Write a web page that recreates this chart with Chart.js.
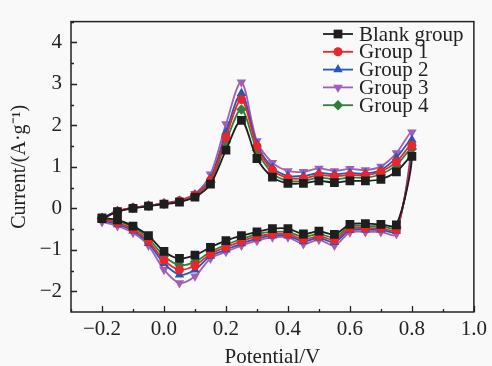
<!DOCTYPE html>
<html>
<head>
<meta charset="utf-8">
<script src="https://cdn.jsdelivr.net/npm/chart.js@4/dist/chart.umd.min.js"></script>
<style>
  html, body { margin: 0; padding: 0; background: #f9f9f9; }
  canvas { display: block; }
</style>
</head>
<body>
<canvas id="cv" width="492" height="366"></canvas>
<script>
  // Potential axis: forward scan -0.2 -> 0.8, then back 0.75 -> -0.2
  var potential = [
    -0.2, -0.15, -0.1, -0.05, 0, 0.05, 0.1, 0.15, 0.2, 0.25, 0.3, 0.35, 0.4, 0.45, 0.5, 0.55, 0.6, 0.65, 0.7, 0.75, 0.8,
    0.75, 0.7, 0.65, 0.6, 0.55, 0.5, 0.45, 0.4, 0.35, 0.3, 0.25, 0.2, 0.15, 0.1, 0.05, 0, -0.05, -0.1, -0.15, -0.2
  ];

  var blankGroup = [
    -0.25, -0.08, 0.0, 0.05, 0.1, 0.15, 0.27, 0.58, 1.4, 2.12, 1.2, 0.75, 0.6, 0.6, 0.66, 0.62, 0.66, 0.66, 0.7, 0.88, 1.25,
    -0.4, -0.39, -0.37, -0.39, -0.63, -0.55, -0.62, -0.49, -0.49, -0.57, -0.66, -0.78, -0.94, -1.13, -1.21, -1.04, -0.66, -0.43, -0.28, -0.23
  ];
  var group1 = [
    -0.25, -0.07, 0.01, 0.06, 0.11, 0.18, 0.32, 0.68, 1.72, 2.62, 1.5, 0.92, 0.73, 0.72, 0.8, 0.77, 0.8, 0.8, 0.88, 1.12, 1.52,
    -0.51, -0.48, -0.48, -0.49, -0.76, -0.67, -0.75, -0.62, -0.62, -0.68, -0.8, -0.94, -1.1, -1.38, -1.48, -1.25, -0.79, -0.5, -0.35, -0.26
  ];
  var group2 = [
    -0.26, -0.07, 0.01, 0.06, 0.12, 0.18, 0.33, 0.72, 1.83, 2.77, 1.55, 0.98, 0.78, 0.78, 0.85, 0.82, 0.85, 0.84, 0.92, 1.22, 1.65,
    -0.55, -0.52, -0.52, -0.53, -0.82, -0.71, -0.8, -0.66, -0.66, -0.73, -0.85, -1.0, -1.15, -1.48, -1.6, -1.33, -0.84, -0.54, -0.39, -0.28
  ];
  var group3 = [
    -0.28, -0.07, 0.01, 0.06, 0.12, 0.19, 0.35, 0.82, 2.03, 3.04, 1.62, 1.1, 0.9, 0.88, 0.96, 0.9, 0.95, 0.92, 1.01, 1.33, 1.83,
    -0.62, -0.57, -0.57, -0.58, -0.9, -0.76, -0.86, -0.7, -0.7, -0.78, -0.9, -1.05, -1.21, -1.64, -1.8, -1.48, -0.9, -0.59, -0.43, -0.33
  ];
  var group4 = [
    -0.24, -0.07, 0.01, 0.06, 0.11, 0.17, 0.31, 0.63, 1.6, 2.38, 1.4, 0.84, 0.66, 0.66, 0.74, 0.7, 0.74, 0.74, 0.82, 1.04, 1.43,
    -0.46, -0.43, -0.43, -0.44, -0.7, -0.62, -0.69, -0.57, -0.57, -0.62, -0.74, -0.88, -1.05, -1.29, -1.37, -1.15, -0.73, -0.45, -0.31, -0.23
  ];

  var xTicks = [-0.2, 0.0, 0.2, 0.4, 0.6, 0.8, 1.0];
  var yTicks = [-2, -1, 0, 1, 2, 3, 4];

  var serif = '"Liberation Serif", "Times New Roman", serif';

  function pts(vals) {
    return vals.map(function (v, i) { return { x: potential[i], y: v }; });
  }

  var radiusFor = { rect: 6.2, circle: 4.5, triangle: 5.5, rectRot: 5.2 };

  function series(label, vals, color, style, rot) {
    return {
      label: label,
      data: pts(vals),
      borderColor: color,
      backgroundColor: color,
      borderWidth: 1.8,
      pointStyle: style,
      pointRotation: rot || 0,
      pointRadius: radiusFor[style],
      pointBorderWidth: 0,
      showLine: true,
      tension: 0.3
    };
  }

  var minus = function (s) { return String(s).replace('-', '\u2212'); };

  // inward tick marks + frame; legend with line + marker
  var frameAndLegend = {
    id: 'frameAndLegend',
    afterDraw: function (chart) {
      var ctx = chart.ctx, a = chart.chartArea;
      var xs = chart.scales.x, ys = chart.scales.y;
      ctx.save();
      ctx.strokeStyle = '#222';
      ctx.lineWidth = 1.3;
      ctx.beginPath();
      xTicks.forEach(function (v) {
        var px = Math.round(xs.getPixelForValue(v)) + 0.5;
        ctx.moveTo(px, a.bottom); ctx.lineTo(px, a.bottom - 6);
        var pm = Math.round(xs.getPixelForValue(v - 0.1)) + 0.5;
        ctx.moveTo(pm, a.bottom); ctx.lineTo(pm, a.bottom - 3);
      });
      yTicks.forEach(function (v) {
        var py = Math.round(ys.getPixelForValue(v)) + 0.5;
        ctx.moveTo(a.left, py); ctx.lineTo(a.left + 6, py);
        var pm = Math.round(ys.getPixelForValue(v + 0.5)) + 0.5;
        ctx.moveTo(a.left, pm); ctx.lineTo(a.left + 3, pm);
      });
      ctx.stroke();
      ctx.lineWidth = 1.5;
      ctx.strokeRect(a.left, a.top, a.right - a.left, a.bottom - a.top);

      // legend
      var lx = 323, ly = 34, step = 17.8;
      ctx.font = '21px ' + serif;
      ctx.textBaseline = 'middle';
      chart.data.datasets.forEach(function (ds, i) {
        var y = ly + i * step;
        ctx.strokeStyle = ds.borderColor;
        ctx.lineWidth = 1.8;
        ctx.beginPath();
        ctx.moveTo(lx, y); ctx.lineTo(lx + 30, y);
        ctx.stroke();
        ctx.fillStyle = ds.backgroundColor;
        Chart.helpers.drawPoint(ctx, {
          pointStyle: ds.pointStyle,
          rotation: ds.pointRotation,
          radius: ds.pointRadius,
          borderWidth: 0
        }, lx + 15, y);
        ctx.fillStyle = '#222';
        ctx.fillText(ds.label, lx + 36, y + 1);
      });
      ctx.restore();
    }
  };

  new Chart(document.getElementById('cv'), {
    type: 'scatter',
    data: {
      datasets: [
        series('Blank group', blankGroup, '#1e1e1e', 'rect'),
        series('Group 1', group1, '#e8262b', 'circle'),
        series('Group 2', group2, '#2a56b0', 'triangle'),
        series('Group 3', group3, '#a15fb8', 'triangle', 180),
        series('Group 4', group4, '#2f7f3c', 'rectRot')
      ]
    },
    options: {
      responsive: false,
      animation: false,
      devicePixelRatio: 1,
      layout: { padding: { top: 11, right: 16, left: 0, bottom: 0 } },
      plugins: { legend: { display: false }, tooltip: { enabled: false } },
      scales: {
        x: {
          type: 'linear',
          min: -0.3,
          max: 1.0,
          afterBuildTicks: function (s) { s.ticks = xTicks.map(function (v) { return { value: v }; }); },
          afterFit: function (s) { s.height = 54; },
          grid: { display: false, drawTicks: false },
          border: { display: false },
          ticks: {
            padding: 5,
            color: '#222',
            font: { family: serif, size: 21 },
            maxRotation: 0,
            callback: function (v) { return minus(Number(v).toFixed(1)); }
          },
          title: {
            display: true,
            text: 'Potential/V',
            color: '#222',
            font: { family: serif, size: 21, lineHeight: 0.85 },
            padding: { top: 0, bottom: 0 }
          }
        },
        y: {
          min: -2.5,
          max: 4.5,
          afterBuildTicks: function (s) { s.ticks = yTicks.map(function (v) { return { value: v }; }); },
          afterFit: function (s) { s.width = 71; },
          grid: { display: false, drawTicks: false },
          border: { display: false },
          ticks: {
            padding: 9,
            color: '#222',
            font: { family: serif, size: 21 },
            callback: function (v) { return minus(v); }
          },
          title: {
            display: true,
            text: 'Current/(A\u00b7g\u207b\u00b9)',
            color: '#222',
            font: { family: serif, size: 20, lineHeight: 1 },
            padding: { top: 10, bottom: 0 }
          }
        }
      }
    },
    plugins: [frameAndLegend]
  });
</script>
</body>
</html>
